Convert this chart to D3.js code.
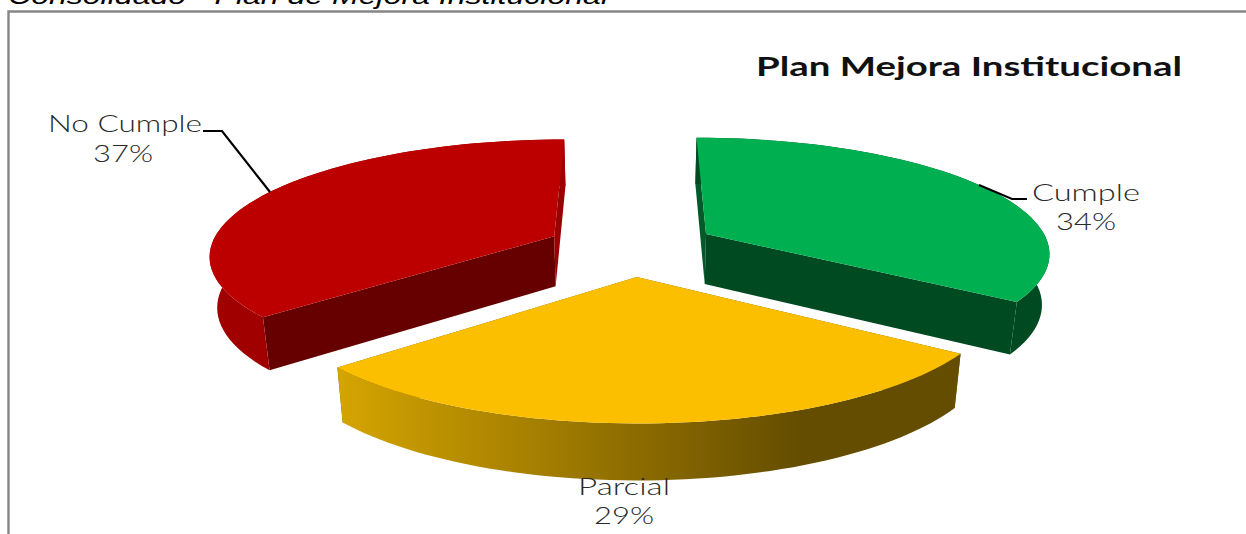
<!DOCTYPE html>
<html>
<head>
<meta charset="utf-8">
<script src="https://cdn.jsdelivr.net/npm/d3@7/dist/d3.min.js"></script>
<style>
  html, body { margin: 0; padding: 0; background: #fff; overflow: hidden; }
  svg { display: block; }
</style>
</head>
<body>
<svg id="chart" width="1246" height="534"></svg>
<script>
// Survey categories, clockwise from twelve o'clock
const categories = ["Cumple", "Parcial", "No Cumple"];
const shares = [34, 29, 37];
const topColors = ["#00b050", "#fcbf00", "#bc0000"];
const outerWallColors = ["#004a22", "url(#parcialWall)", "#a10000"];
const startWallColors = ["#005a2a", "#7a5c00", "#660000"];
const endWallColors = ["#004a22", "#7a5c00", "#990000"];

const width = 1246, height = 534;

// Tilted-disc projection: ground-plane units map to the page with a vanishing factor
const explode = 0.25;
const perspective = 0.15;
const thickness = 50;
const lens = 0.04;
const scaleX = d3.scaleLinear().domain([0, 1]).range([632, 632 + 344]);
const scaleY = d3.scaleLinear().domain([0, 1]).range([247.5, 247.5 - 114.5]);
// Extra sideways pull on each exploded slice, in ground-plane units
const sideShift = [0, -0.01, 0];

function project([gx, gy]) {
  const s = 1 / (1 + perspective * gy);
  return [scaleX(gx * s), scaleY(gy * s)];
}
// Lower rim of the disc: pulled slightly toward the axis, deeper nearer the viewer
function drop([x, y]) {
  return [scaleX(0) + (x - scaleX(0)) * 0.982, y + thickness + (y - 235) * 0.037];
}
// Wide-angle lens effect on the rim angle; twelve o'clock stays fixed
const warp = t => t + lens * Math.sin(t / 2);

const svg = d3.select("#chart");
const line = d3.line();

const grad = svg.append("defs").append("linearGradient")
  .attr("id", "parcialWall")
  .attr("gradientUnits", "userSpaceOnUse")
  .attr("x1", 340).attr("x2", 800).attr("y1", 0).attr("y2", 0);
grad.append("stop").attr("offset", 0).attr("stop-color", "#d4a400");
grad.append("stop").attr("offset", 1).attr("stop-color", "#654d00");

// Caption above the frame, running off the top of the page
svg.append("text")
  .attr("x", 8).attr("y", 4)
  .attr("font-family", "Liberation Sans")
  .attr("font-style", "italic")
  .attr("font-size", 24)
  .attr("textLength", 600).attr("lengthAdjust", "spacingAndGlyphs")
  .attr("fill", "#000")
  .text("Consolidado - Plan de Mejora Institucional");

// Frame open at the right and bottom edges
svg.append("path")
  .attr("d", line([[8.5, height], [8.5, 11.5], [width, 11.5]]))
  .attr("fill", "none").attr("stroke", "#868686").attr("stroke-width", 2.4);

const pieLayout = d3.pie().sort(null).value(d => d)
  .startAngle(0).endAngle(2 * Math.PI);
const arcs = pieLayout(shares);

arcs.forEach((a, i) => {
  const mid = (a.startAngle + a.endAngle) / 2;
  const ox = explode * Math.sin(mid) + sideShift[i], oy = explode * Math.cos(mid);
  const steps = d3.range(0, 61).map(k => warp(a.startAngle + (a.endAngle - a.startAngle) * k / 60));
  const rim = steps.map(t => project([ox + Math.sin(t), oy + Math.cos(t)]));
  const apex = project([ox, oy]);
  const rimLow = rim.map(drop);
  const apexLow = drop(apex);
  const g = svg.append("g").attr("class", "slice");

  // Radial walls at both cut edges, then the curved outer wall, then the top face
  g.append("path").attr("d", line([apex, rim[0], rimLow[0], apexLow]) + "Z")
    .attr("fill", startWallColors[i]);
  g.append("path").attr("d", line([apex, rim[60], rimLow[60], apexLow]) + "Z")
    .attr("fill", endWallColors[i]);
  g.append("path")
    .attr("d", line(rim.concat(rimLow.slice().reverse())) + "Z")
    .attr("fill", outerWallColors[i]);
  g.append("path")
    .attr("d", line([apex].concat(rim)) + "Z")
    .attr("fill", topColors[i]);
});

// Title and data labels, widened to the chart's horizontal stretch
const labelFont = "Lato";
svg.append("text")
  .attr("x", 756).attr("y", 76)
  .attr("font-family", labelFont).attr("font-weight", "bold")
  .attr("font-size", 27.5).attr("fill", "#111")
  .attr("textLength", 426).attr("lengthAdjust", "spacingAndGlyphs")
  .text("Plan Mejora Institucional");

const nameSpots = [[1032, 201, 108], [578, 495, 92], [48, 132, 154]];
const valueSpots = [[1056, 230, 60], [594, 524, 60], [93, 162, 60]];
const drawLabel = (txt, [x, y, w]) => svg.append("text")
  .attr("x", x).attr("y", y)
  .attr("font-family", labelFont).attr("font-weight", 300)
  .attr("font-size", 23).attr("fill", "#2a2a2a")
  .attr("textLength", w).attr("lengthAdjust", "spacingAndGlyphs")
  .text(txt);
categories.forEach((c, i) => {
  drawLabel(c, nameSpots[i]);
  drawLabel(shares[i] + "%", valueSpots[i]);
});

// Leader lines from the labels to their slices
[[[203, 131], [222, 131], [270, 192]], [[979, 185], [1012, 199], [1027, 199]]].forEach(pts => {
  svg.append("path").attr("d", line(pts))
    .attr("fill", "none").attr("stroke", "#000").attr("stroke-width", 2.2);
});
</script>
</body>
</html>
